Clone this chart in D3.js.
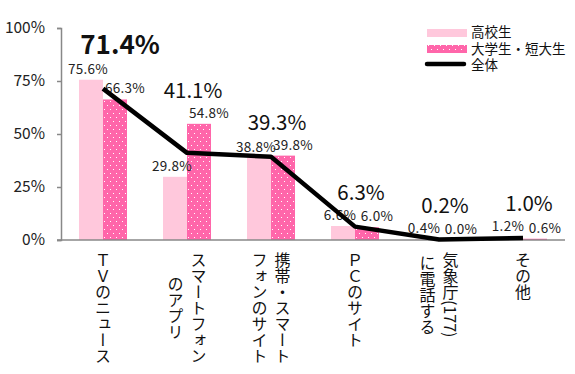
<!DOCTYPE html>
<html>
<head>
<meta charset="utf-8">
<script src="https://cdn.jsdelivr.net/npm/d3@7"></script>
<style>
  body { margin: 0; background: #fff; }
  text { font-family: "Noto Sans CJK JP", "DejaVu Sans", sans-serif; }
</style>
</head>
<body>
<div id="chart-area"></div>
<script>

// Data
let categories = ["ＴＶのニュース", "スマートフォン|のアプリ", "携帯・スマート|フォンのサイト", "ＰＣのサイト", "気象庁(177)|に電話する", "その他"];
let highSchool = [75.6, 29.8, 38.8, 6.6, 0.4, 1.2];
let college = [66.3, 54.8, 39.8, 6.0, 0.0, 0.6];
let total = [71.4, 41.1, 39.3, 6.3, 0.2, 1.0];
let yTicks = [0, 25, 50, 75, 100];
let seriesNames = ["高校生", "大学生・短大生", "全体"];

// SVG drawing area
let margin = {top: 28, right: 10, bottom: 134, left: 61};
let width = 565 - margin.left,
    height = 240 - margin.top;

let svg = d3.select("#chart-area").append("svg")
    .attr("width", 575)
    .attr("height", 374)
  .append("g")
    .attr("transform", "translate(" + margin.left + "," + margin.top + ")");

// dotted pattern for 2nd series
let defs = svg.append("defs");
let pat = defs.append("pattern")
    .attr("id", "dots")
    .attr("patternUnits", "userSpaceOnUse")
    .attr("width", 6)
    .attr("height", 8);
pat.append("rect").attr("width", 6).attr("height", 8).attr("fill", "#ff66aa");
pat.append("rect").attr("x", 1).attr("y", 1).attr("width", 1).attr("height", 1).attr("fill", "#fff");
pat.append("rect").attr("x", 4).attr("y", 5).attr("width", 1).attr("height", 1).attr("fill", "#fff");

// Scales
let y = d3.scaleLinear().domain([0, 100]).range([height, 0]);
let x = d3.scaleBand().domain(categories).range([0, width]);
let barW = 24;

// Axes
let yAxis = d3.axisLeft(y).tickValues(yTicks).tickSize(4).tickFormat(d => d + "%");
let yAxisG = svg.append("g").attr("class", "y-axis").call(yAxis);
yAxisG.select(".domain").attr("stroke", "#888").attr("stroke-width", 1.5);
yAxisG.selectAll(".tick line").attr("stroke", "#888").attr("stroke-width", 1.5);
yAxisG.selectAll(".tick text")
    .attr("x", -16)
    .attr("font-size", 15.5)
    .attr("fill", "#222")
    .style("font-family", "'Noto Sans CJK JP', sans-serif");

// Bars
let grp = svg.selectAll(".cat")
    .data(categories)
  .enter().append("g")
    .attr("class", "cat")
    .attr("transform", d => "translate(" + (x(d) + x.bandwidth() / 2) + ",0)");

grp.append("rect")
    .attr("x", -barW)
    .attr("width", barW)
    .attr("y", (d, i) => y(highSchool[i]))
    .attr("height", (d, i) => height - y(highSchool[i]))
    .attr("fill", "#ffc8dc");

grp.append("rect")
    .attr("x", 0)
    .attr("width", barW)
    .attr("y", (d, i) => y(college[i]))
    .attr("height", (d, i) => height - y(college[i]))
    .attr("fill", "url(#dots)");

// x axis line
svg.append("line")
    .attr("x1", -4).attr("x2", width)
    .attr("y1", height).attr("y2", height)
    .attr("stroke", "#888").attr("stroke-width", 1.5);

// Bar labels
grp.append("text")
    .attr("x", -barW / 2 - 3)
    .attr("y", (d, i) => y(highSchool[i]) - 6)
    .attr("text-anchor", "middle")
    .attr("font-size", 13.5)
    .attr("letter-spacing", 0.3)
    .attr("fill", "#222")
    .text((d, i) => highSchool[i].toFixed(1) + "%");

grp.append("text")
    .attr("x", barW / 2 + 10)
    .attr("y", (d, i) => y(college[i]) - 6)
    .attr("text-anchor", "middle")
    .attr("font-size", 13.5)
    .attr("letter-spacing", 0.3)
    .attr("fill", "#222")
    .text((d, i) => college[i].toFixed(1) + "%");

// Line
let line = d3.line()
    .x((d, i) => x(categories[i]) + x.bandwidth() / 2)
    .y(d => y(d));

svg.append("path")
    .datum(total)
    .attr("d", line)
    .attr("fill", "none")
    .attr("stroke", "#000")
    .attr("stroke-width", 4.5)
    .attr("stroke-linejoin", "round");

// Total labels (placed above the tallest mark of the group)
grp.append("text")
    .attr("x", (d, i) => i == 0 ? 17 : 6)
    .attr("y", (d, i) => y(Math.max(highSchool[i], college[i], total[i])) - 26)
    .attr("text-anchor", "middle")
    .attr("font-size", (d, i) => i == 0 ? 26 : 20.5)
    .attr("font-weight", (d, i) => i == 0 ? "bold" : "normal")
    .attr("fill", "#111")
    .text((d, i) => total[i].toFixed(1) + "%");

// Category labels (vertical, lines centred within a top-aligned block)
grp.each(function(d) {
  let lines = d.split("|");
  let g = d3.select(this);
  let texts = lines.map(function(s, j) {
    let off = (lines.length - 1) * 11.5 - j * 23;
    return g.append("text")
      .attr("x", off)
      .attr("writing-mode", "vertical-rl")
      .attr("text-anchor", "middle")
      .attr("font-size", 16)
      .attr("fill", "#111")
      .text(s);
  });
  let maxLen = d3.max(texts, t => t.node().getComputedTextLength());
  texts.forEach(t => t.attr("y", height + 12 + maxLen / 2));
});

// Legend
let legend = svg.append("g").attr("transform", "translate(" + (427 - margin.left) + "," + (28 - margin.top) + ")");
legend.append("rect").attr("x", 0).attr("y", 1).attr("width", 40).attr("height", 8).attr("fill", "#ffc8dc");
legend.append("rect").attr("x", 0).attr("y", 17).attr("width", 40).attr("height", 8).attr("fill", "url(#dots)");
legend.append("line").attr("x1", 0).attr("x2", 37).attr("y1", 36).attr("y2", 36)
    .attr("stroke", "#000").attr("stroke-width", 4.5).attr("stroke-linecap", "round");
seriesNames.forEach(function(n, i) {
  legend.append("text")
    .attr("x", 44)
    .attr("y", 4.5 + i * 16.3)
    .attr("dy", "0.35em")
    .attr("font-size", 13.5)
    .attr("fill", "#111")
    .text(n);
});

</script>
</body>
</html>
